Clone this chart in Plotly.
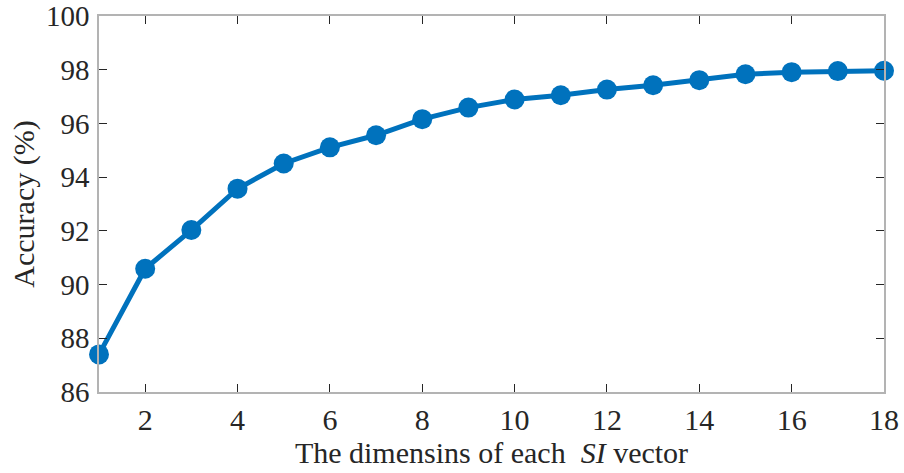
import plotly.graph_objects as go

dims = list(range(1, 19))
accuracy = [87.40, 90.59, 92.03, 93.57, 94.51, 95.11, 95.56, 96.16, 96.59,
            96.89, 97.05, 97.26, 97.42, 97.61, 97.83, 97.91, 97.95, 97.96]
x_ticks = [2, 4, 6, 8, 10, 12, 14, 16, 18]
y_ticks = [86, 88, 90, 92, 94, 96, 98, 100]

fig = go.Figure()
fig.add_trace(go.Scatter(
    x=dims, y=accuracy, mode="lines+markers",
    line=dict(color="#0072BD", width=5),
    marker=dict(color="#0072BD", size=20),
    cliponaxis=False, showlegend=False,
))

serif = "Liberation Serif, Times New Roman, serif"
fig.update_layout(
    width=904, height=473,
    margin=dict(l=99, r=20, t=16, b=81),
    paper_bgcolor="white", plot_bgcolor="white",
    font=dict(family=serif, size=26, color="#262626"),
)
fig.update_xaxes(
    range=[1, 18], tickvals=x_ticks, ticktext=[str(v) for v in x_ticks],
    ticks="inside", ticklen=8, tickwidth=1, tickcolor="#262626",
    showline=True, linecolor="#b3b3b3", linewidth=1.5, mirror="ticks",
    showgrid=False, zeroline=False, automargin=False,
    ticklabeloverflow="allow",
    tickfont=dict(family=serif, size=30, color="#262626"), ticklabelstandoff=0,
    title=dict(text="The dimensins of each\u00a0 <i>SI</i> vector",
               font=dict(family=serif, size=30, color="#262626"), standoff=0),
)
fig.update_yaxes(
    range=[86, 100], tickvals=y_ticks, ticktext=[str(v) for v in y_ticks],
    ticks="inside", ticklen=8, tickwidth=1, tickcolor="#262626",
    showline=True, linecolor="#b3b3b3", linewidth=1.5, mirror="ticks",
    showgrid=False, zeroline=False, automargin=False,
    ticklabeloverflow="allow",
    tickfont=dict(family=serif, size=29, color="#262626"), ticklabelstandoff=2,
    title=dict(text="Accuracy (%)",
               font=dict(family=serif, size=30, color="#262626"), standoff=2),
)
fig.write_html("out.html")
